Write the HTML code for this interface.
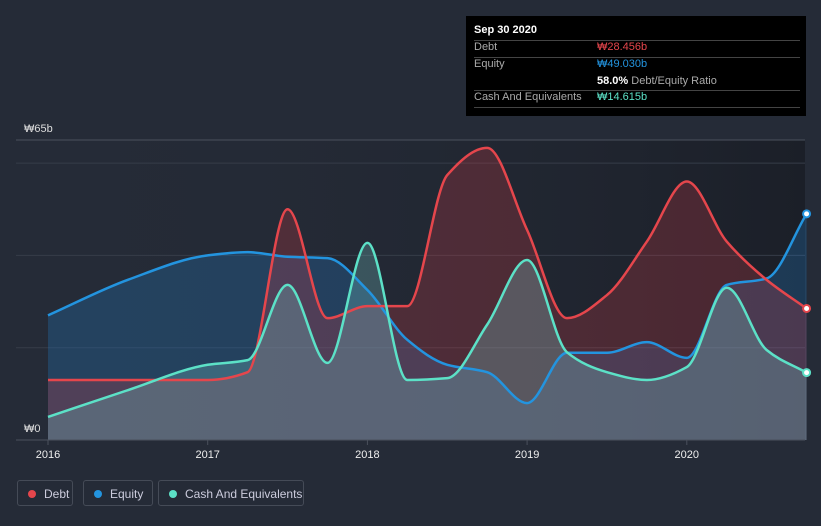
<!DOCTYPE html>
<html><head><meta charset="utf-8"><style>
body{margin:0;width:821px;height:526px;background:#252b37;font-family:"Liberation Sans","Noto Sans CJK KR",sans-serif;overflow:hidden;position:relative}
#tip{position:absolute;left:466px;top:16px;width:340px;height:100px;background:#000;color:#fff;font-size:11px}
.row{position:absolute;left:8px;width:326px;border-top:1px solid #444;height:16px}
.lg{position:absolute;top:480px;height:26px;border:1px solid #454b57;border-radius:3px;color:#ccd;font-size:12px;line-height:26px;box-sizing:border-box;padding-left:26px}
.lg i{position:absolute;left:10px;top:9px;width:8px;height:8px;border-radius:50%}
</style></head><body>
<svg id="chart" width="821" height="526" style="position:absolute;left:0;top:0">
<defs>
<linearGradient id="bg" x1="0" x2="1"><stop offset="0" stop-color="#252b37" stop-opacity="0"/><stop offset="1" stop-color="#1b1f28"/></linearGradient>
</defs>
<rect x="16" y="140" width="789" height="300" fill="url(#bg)"/>
<g id="grid"></g><g id="areas"></g><g id="lines"></g><g id="axis"></g>
</svg>
<div id="tip">
<div style="position:absolute;left:8px;top:8px;font-weight:bold">Sep 30 2020</div>
<div class="row" style="top:24px"><span style="color:#aaa">Debt</span><span style="position:absolute;left:123px;color:#e5464c">₩28.456b</span></div>
<div class="row" style="top:41px"><span style="color:#aaa">Equity</span><span style="position:absolute;left:123px;color:#2394df">₩49.030b</span></div>
<div style="position:absolute;left:131px;top:59px"><b>58.0%</b> <span style="color:#aaa">Debt/Equity Ratio</span></div>
<div class="row" style="top:74px;border-bottom:1px solid #444"><span style="color:#aaa">Cash And Equivalents</span><span style="position:absolute;left:123px;color:#5ce1c7">₩14.615b</span></div>
</div>
<div class="lg" style="left:17px;width:56px"><i style="background:#e5464c"></i>Debt</div>
<div class="lg" style="left:83px;width:70px"><i style="background:#2394df"></i>Equity</div>
<div class="lg" style="left:158px;width:146px"><i style="background:#5ce1c7"></i>Cash And Equivalents</div>
<script>
const years=[2016,2016.5,2017,2017.25,2017.5,2017.75,2018,2018.25,2018.5,2018.75,2019,2019.25,2019.5,2019.75,2020,2020.25,2020.5,2020.75];
const debt=[13,13,13,14.7,50,26.4,29,29,57.4,63.3,45.5,26.4,31.4,43,56,43,34.7,28.5];
const equity=[27,34.7,40,40.7,39.7,39.4,32.5,21.7,16.3,14.7,8,18.9,18.9,21.2,17.8,33.6,35,49];
const cash=[5,10.8,16.3,17.3,33.6,16.7,42.7,13,13.4,25,39,19,14.7,13,15.8,33,19.5,14.6];
const xTicks=[2016,2017,2018,2019,2020];
const gridVals=[20,40,60,65];
const X=v=>48+(v-2016)*159.7, Y=v=>440-v*300/65;
const NS='http://www.w3.org/2000/svg';
function el(t,a,p){const e=document.createElementNS(NS,t);for(const k in a)e.setAttribute(k,a[k]);document.getElementById(p).appendChild(e);return e;}
function path(vals){const p=years.map((y,i)=>[X(y),Y(vals[i])]);const n=p.length;
const dx=[],s=[];for(let i=0;i<n-1;i++){dx.push(p[i+1][0]-p[i][0]);s.push((p[i+1][1]-p[i][1])/dx[i]);}
const m=[s[0]];for(let i=1;i<n-1;i++){if(s[i-1]*s[i]<=0)m.push(0);else{const w1=2*dx[i]+dx[i-1],w2=dx[i]+2*dx[i-1];m.push((w1+w2)/(w1/s[i-1]+w2/s[i]));}}m.push(s[n-2]);
let d='M'+p[0];for(let i=0;i<n-1;i++){const h=dx[i]/3;d+=` C${p[i][0]+h},${p[i][1]+m[i]*h} ${p[i+1][0]-h},${p[i+1][1]-m[i+1]*h} ${p[i+1][0]},${p[i+1][1]}`;}return d;}
gridVals.forEach(v=>{const g=el('line',{x1:16,x2:805,y1:Y(v),y2:Y(v),stroke:v==65?'#4a505c':'#363c48','stroke-width':1},'grid');

});
const series=[['equity',equity,'#2394df','rgba(35,120,190,0.3)'],['debt',debt,'#e5464c','rgba(200,60,70,0.27)'],['cash',cash,'#5ce1c7','rgba(120,200,200,0.28)']];
series.forEach(([n,v,c,f])=>{const d=path(v);
const a=el('path',{d:d+` L${X(years[years.length-1])},440 L${X(years[0])},440 Z`,fill:f},'areas');


const l=el('path',{d:d,fill:'none',stroke:c,'stroke-width':2.5},'lines');


const dt=el('circle',{cx:X(years[years.length-1]),cy:Y(v[v.length-1]),r:3.5,fill:'#fff',stroke:c,'stroke-width':2},'lines');

});
el('line',{x1:16,x2:805,y1:440,y2:440,stroke:'#4a505c'},'axis');
xTicks.forEach(t=>{el('line',{x1:X(t),x2:X(t),y1:440,y2:445,stroke:'#4a505c'},'axis');
const tx=el('text',{x:X(t),y:458,'text-anchor':'middle',fill:'#eee','font-size':11},'axis');tx.textContent=t;

});
[['₩65b',132],['₩0',432]].forEach(([s,y])=>{const t=el('text',{x:24,y:y,fill:'#ddd','font-size':11},'axis');t.textContent=s;

});
</script>
</body></html>
